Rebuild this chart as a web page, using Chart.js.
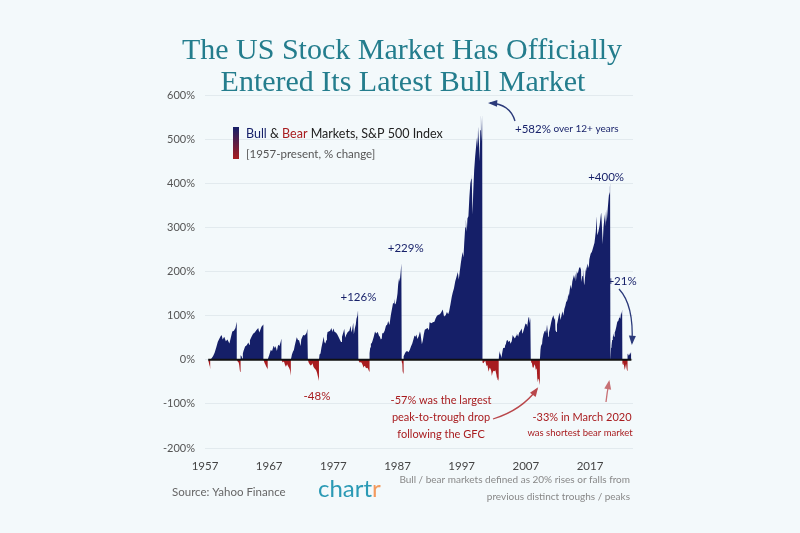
<!DOCTYPE html>
<html>
<head>
<meta charset="utf-8">
<script src="https://cdn.jsdelivr.net/npm/chart.js@4"></script>
<style>
  html, body { margin: 0; padding: 0; background: #f3f9fb; }
  #wrap { width: 800px; height: 533px; }
</style>
</head>
<body>
<div id="wrap"><canvas id="myChart" width="800" height="533"></canvas></div>
<script>
// each phase: [year, % change since the start of that bull / bear market]
var bear1956 = [[1957.5, -4], [1957.6, -7], [1957.68, -12], [1957.75, -15], [1957.81, -21.6]];
var bull1957 = [[1957.81, 0], [1958.0, 3], [1958.25, 8], [1958.5, 16], [1958.75, 28], [1959.0, 41], [1959.25, 48], [1959.5, 55], [1959.6, 56], [1959.75, 46], [1960.0, 52], [1960.25, 42], [1960.5, 46], [1960.8, 37], [1961.0, 49], [1961.25, 64], [1961.5, 66], [1961.75, 72], [1961.95, 86]];
var bear1961 = [[1961.95, 0], [1962.05, -3], [1962.15, -5], [1962.25, -6], [1962.33, -12], [1962.4, -18], [1962.45, -24], [1962.49, -28]];
var bull1962 = [[1962.49, 0], [1962.6, 10], [1962.7, 8], [1962.8, 3], [1962.9, 14], [1963.0, 20], [1963.25, 30], [1963.5, 33], [1963.75, 39], [1963.9, 34], [1964.0, 44], [1964.25, 52], [1964.5, 59], [1964.75, 62], [1965.0, 67], [1965.3, 72], [1965.45, 62], [1965.6, 67], [1965.8, 75], [1966.0, 78], [1966.1, 80]];
var bear1966 = [[1966.1, 0], [1966.2, -4], [1966.3, -8], [1966.4, -11], [1966.5, -14], [1966.6, -17], [1966.7, -19], [1966.77, -22]];
var bull1966 = [[1966.77, 0], [1966.9, 6], [1967.0, 10], [1967.25, 22], [1967.45, 20], [1967.7, 32], [1967.9, 26], [1968.0, 31], [1968.2, 20], [1968.4, 34], [1968.6, 31], [1968.8, 41], [1968.91, 48]];
var bear1968 = [[1968.91, 0], [1969.1, -6], [1969.3, -4], [1969.45, -11], [1969.6, -16], [1969.8, -10], [1969.95, -15], [1970.1, -18], [1970.25, -24], [1970.33, -30], [1970.4, -36]];
var bull1970 = [[1970.4, 0], [1970.55, 12], [1970.7, 18], [1970.85, 22], [1971.0, 33], [1971.15, 42], [1971.3, 51], [1971.5, 44], [1971.65, 45], [1971.9, 31], [1972.0, 46], [1972.3, 56], [1972.5, 55], [1972.7, 58], [1972.85, 62], [1972.95, 70], [1973.03, 74]];
var bear1973 = [[1973.03, 0], [1973.15, -6], [1973.3, -10], [1973.45, -13], [1973.6, -12], [1973.75, -8], [1973.9, -16], [1974.0, -18], [1974.15, -21], [1974.3, -23], [1974.45, -29], [1974.55, -35], [1974.65, -41], [1974.76, -48]];
var bull1974 = [[1974.76, 0], [1974.85, 12], [1975.0, 14], [1975.15, 28], [1975.3, 38], [1975.5, 52], [1975.6, 40], [1975.75, 37], [1975.9, 44], [1976.0, 55], [1976.1, 63], [1976.3, 64], [1976.5, 66], [1976.7, 72], [1976.85, 63], [1977.0, 71], [1977.2, 63], [1977.4, 62], [1977.6, 58], [1977.8, 52], [1978.0, 46], [1978.2, 40], [1978.35, 52], [1978.6, 64], [1978.7, 70], [1978.85, 50], [1979.0, 56], [1979.25, 63], [1979.5, 66], [1979.7, 77], [1979.8, 62], [1979.95, 69], [1980.1, 84], [1980.2, 58], [1980.35, 71], [1980.5, 80], [1980.6, 93], [1980.75, 100], [1980.85, 112], [1980.89, 120], [1980.91, 126]];
var bear1980 = [[1980.91, 0], [1981.0, -4], [1981.15, -7], [1981.3, -5], [1981.45, -8], [1981.6, -13], [1981.7, -18], [1981.8, -14], [1981.95, -15], [1982.1, -19], [1982.25, -18], [1982.4, -20], [1982.5, -24], [1982.61, -27]];
var bull1982 = [[1982.61, 0], [1982.68, 15], [1982.75, 28], [1982.85, 36], [1983.0, 38], [1983.15, 45], [1983.3, 52], [1983.5, 64], [1983.65, 60], [1983.8, 63], [1983.95, 62], [1984.1, 55], [1984.25, 52], [1984.4, 46], [1984.55, 48], [1984.62, 60], [1984.8, 60], [1985.0, 66], [1985.2, 77], [1985.4, 80], [1985.55, 88], [1985.75, 79], [1985.9, 95], [1986.0, 104], [1986.15, 116], [1986.3, 128], [1986.45, 138], [1986.6, 125], [1986.75, 128], [1986.9, 140], [1987.0, 150], [1987.1, 170], [1987.25, 186], [1987.35, 177], [1987.5, 200], [1987.6, 218], [1987.63, 222], [1987.65, 229]];
var bear1987 = [[1987.65, 0], [1987.7, -5], [1987.75, -9], [1987.79, -14], [1987.8, -33], [1987.85, -26], [1987.9, -30], [1987.93, -33.5]];
var bull1987 = [[1987.93, 0], [1988.0, 8], [1988.15, 14], [1988.3, 18], [1988.5, 20], [1988.7, 17], [1988.9, 22], [1989.1, 30], [1989.3, 37], [1989.5, 47], [1989.65, 55], [1989.8, 52], [1989.95, 57], [1990.1, 47], [1990.3, 53], [1990.5, 64], [1990.6, 58], [1990.8, 35], [1990.95, 44], [1991.1, 58], [1991.25, 68], [1991.5, 70], [1991.7, 72], [1991.9, 67], [1992.0, 85], [1992.3, 83], [1992.5, 85], [1992.75, 86], [1992.95, 94], [1993.15, 100], [1993.4, 102], [1993.6, 103], [1993.8, 107], [1994.05, 114], [1994.25, 98], [1994.5, 101], [1994.7, 108], [1994.9, 103], [1995.05, 110], [1995.25, 125], [1995.45, 142], [1995.6, 152], [1995.8, 162], [1996.0, 178], [1996.2, 188], [1996.4, 199], [1996.55, 182], [1996.7, 200], [1996.85, 217], [1997.0, 232], [1997.15, 244], [1997.28, 232], [1997.4, 265], [1997.55, 300], [1997.65, 318], [1997.8, 290], [1997.9, 320], [1998.05, 325], [1998.2, 368], [1998.35, 400], [1998.5, 410], [1998.55, 422], [1998.65, 355], [1998.7, 330], [1998.8, 380], [1998.95, 430], [1999.1, 460], [1999.3, 492], [1999.4, 504], [1999.5, 480], [1999.55, 528], [1999.7, 490], [1999.8, 450], [1999.9, 520], [2000.0, 555], [2000.1, 510], [2000.15, 495], [2000.2, 560], [2000.22, 575], [2000.23, 582]];
var bear2000 = [[2000.23, 0], [2000.3, -6], [2000.4, -8], [2000.55, -4], [2000.7, -3], [2000.8, -10], [2000.9, -15], [2001.0, -12], [2001.1, -19], [2001.2, -27], [2001.35, -18], [2001.45, -19], [2001.6, -25], [2001.7, -37], [2001.8, -30], [2001.95, -25], [2002.1, -26], [2002.25, -24], [2002.4, -33], [2002.5, -42], [2002.55, -46], [2002.6, -39], [2002.7, -45], [2002.77, -49]];
var bull2002 = [[2002.77, 0], [2002.85, 14], [2002.9, 20], [2003.0, 14], [2003.15, 8], [2003.2, 4], [2003.3, 14], [2003.45, 26], [2003.6, 27], [2003.75, 31], [2003.9, 36], [2004.0, 43], [2004.15, 45], [2004.3, 40], [2004.5, 43], [2004.6, 36], [2004.8, 42], [2004.95, 56], [2005.1, 52], [2005.3, 48], [2005.5, 55], [2005.6, 60], [2005.8, 52], [2005.95, 61], [2006.1, 64], [2006.35, 71], [2006.45, 60], [2006.55, 62], [2006.75, 72], [2006.95, 82], [2007.15, 80], [2007.2, 74], [2007.4, 95], [2007.5, 97], [2007.6, 83], [2007.7, 95], [2007.77, 101]];
var bear2007 = [[2007.77, 0], [2007.85, -6], [2007.95, -8], [2008.05, -17], [2008.2, -18], [2008.35, -10], [2008.45, -14], [2008.55, -23], [2008.65, -19], [2008.72, -24], [2008.78, -42], [2008.88, -51], [2008.95, -43], [2009.05, -45], [2009.12, -52], [2009.19, -57]];
var bull2009 = [[2009.19, 0], [2009.28, 22], [2009.4, 36], [2009.5, 31], [2009.6, 47], [2009.75, 58], [2009.9, 64], [2010.05, 67], [2010.15, 60], [2010.3, 80], [2010.4, 66], [2010.5, 52], [2010.6, 62], [2010.75, 70], [2010.95, 85], [2011.1, 94], [2011.3, 101], [2011.45, 90], [2011.55, 95], [2011.62, 67], [2011.75, 63], [2011.85, 80], [2011.95, 86], [2012.1, 98], [2012.25, 107], [2012.4, 90], [2012.55, 100], [2012.7, 110], [2012.85, 100], [2013.0, 115], [2013.15, 122], [2013.3, 132], [2013.4, 140], [2013.5, 133], [2013.6, 150], [2013.7, 143], [2013.85, 160], [2014.0, 170], [2014.1, 160], [2014.25, 178], [2014.5, 192], [2014.6, 183], [2014.7, 196], [2014.8, 178], [2014.95, 200], [2015.1, 195], [2015.3, 208], [2015.45, 210], [2015.6, 204], [2015.65, 176], [2015.8, 190], [2015.9, 208], [2016.05, 175], [2016.12, 169], [2016.3, 200], [2016.45, 212], [2016.5, 200], [2016.6, 218], [2016.8, 208], [2016.9, 228], [2017.1, 240], [2017.3, 245], [2017.5, 255], [2017.7, 265], [2017.9, 290], [2018.05, 325], [2018.12, 282], [2018.3, 290], [2018.5, 305], [2018.7, 330], [2018.75, 333], [2018.85, 305], [2018.98, 262], [2019.1, 300], [2019.3, 330], [2019.38, 302], [2019.5, 340], [2019.6, 333], [2019.62, 312], [2019.75, 340], [2019.9, 366], [2020.0, 380], [2020.08, 372], [2020.11, 390], [2020.13, 400]];
var bear2020 = [[2020.13, 0], [2020.16, -8], [2020.18, -15], [2020.2, -27], [2020.22, -34]];
var bull2020 = [[2020.22, 0], [2020.28, 27], [2020.35, 32], [2020.45, 45], [2020.55, 50], [2020.65, 60], [2020.7, 53], [2020.8, 52], [2020.85, 62], [2020.95, 66], [2021.1, 75], [2021.25, 86], [2021.4, 88], [2021.55, 95], [2021.65, 100], [2021.72, 92], [2021.85, 108], [2021.92, 102], [2022.01, 114]];
var bear2022 = [[2022.01, 0], [2022.08, -8], [2022.15, -12], [2022.2, -6], [2022.3, -13], [2022.38, -18], [2022.45, -23], [2022.55, -14], [2022.62, -9], [2022.7, -19], [2022.78, -25]];
var bull2022 = [[2022.78, 0], [2022.85, 8], [2022.92, 14], [2023.0, 9], [2023.08, 15], [2023.2, 10], [2023.3, 15], [2023.4, 17], [2023.45, 21]];

var phases = [bear1956, bull1957, bear1961, bull1962, bear1966, bull1966, bear1968, bull1970, bear1973,
  bull1974, bear1980, bull1982, bear1987, bull1987, bear2000, bull2002, bear2007, bull2009, bear2020,
  bull2020, bear2022, bull2022];

var yearTicks = [1957, 1967, 1977, 1987, 1997, 2007, 2017];
var pctTicks = [-200, -100, 0, 100, 200, 300, 400, 500, 600];

var navy = '#151f68';
var red = '#a81c1f';

var points = [];
phases.forEach(function(p) {
  p.forEach(function(d) { points.push({x: d[0], y: d[1]}); });
});
var firstYear = points[0].x;
var lastYear = points[points.length - 1].x;

function arrow(ctx, x0, y0, cx, cy, x1, y1, color) {
  ctx.strokeStyle = color;
  ctx.fillStyle = color;
  ctx.lineWidth = 1.3;
  ctx.beginPath();
  ctx.moveTo(x0, y0);
  ctx.quadraticCurveTo(cx, cy, x1, y1);
  ctx.stroke();
  var a = Math.atan2(y1 - cy, x1 - cx);
  ctx.beginPath();
  ctx.moveTo(x1 + Math.cos(a) * 2, y1 + Math.sin(a) * 2);
  ctx.lineTo(x1 - Math.cos(a - 0.45) * 8, y1 - Math.sin(a - 0.45) * 8);
  ctx.lineTo(x1 - Math.cos(a + 0.45) * 8, y1 - Math.sin(a + 0.45) * 8);
  ctx.closePath();
  ctx.fill();
}

// draws pieces of text one after another on the same line
function runs(ctx, parts, x, y) {
  ctx.textAlign = 'left';
  parts.forEach(function(r) {
    ctx.font = r[2];
    ctx.fillStyle = r[1];
    ctx.fillText(r[0], x, y);
    x += ctx.measureText(r[0]).width;
  });
}

var overlay = {
  id: 'overlay',
  afterDatasetsDraw: function(chart) {
    var ctx = chart.ctx, x = chart.scales.x, y = chart.scales.y;
    ctx.save();
    ctx.strokeStyle = '#111';
    ctx.lineWidth = 2;
    ctx.beginPath();
    ctx.moveTo(x.getPixelForValue(firstYear), y.getPixelForValue(0));
    ctx.lineTo(x.getPixelForValue(lastYear), y.getPixelForValue(0));
    ctx.stroke();
    ctx.restore();
  },
  afterDraw: function(chart) {
    var ctx = chart.ctx, x = chart.scales.x, y = chart.scales.y;
    ctx.save();
    ctx.textBaseline = 'middle';

    // title
    ctx.textAlign = 'center';
    ctx.fillStyle = '#247d8d';
    ctx.font = '30px "Liberation Serif"';
    ctx.fillText('The US Stock Market Has Officially', 402, 51);
    ctx.fillText('Entered Its Latest Bull Market', 403, 83);

    // legend
    var g = ctx.createLinearGradient(0, 127, 0, 159);
    g.addColorStop(0, navy);
    g.addColorStop(1, red);
    ctx.fillStyle = g;
    ctx.fillRect(233, 127, 6, 32);
    var f13 = '12.5px Lato';
    runs(ctx, [['Bull', navy, f13], [' & ', '#222', f13], ['Bear', red, f13], [' Markets, S&P 500 Index', '#222', f13]], 246, 134);
    runs(ctx, [['[1957-present, % change]', '#555', '11.5px Lato']], 246, 154);

    // bull peaks
    ctx.textAlign = 'center';
    ctx.fillStyle = navy;
    ctx.font = '11.5px Lato';
    ctx.fillText('+229%', x.getPixelForValue(1987.65) + 4, y.getPixelForValue(229) - 10);
    ctx.fillText('+126%', x.getPixelForValue(1980.91), y.getPixelForValue(126) - 7);
    ctx.fillText('+400%', x.getPixelForValue(2020.13) - 4, y.getPixelForValue(400) - 6);
    ctx.fillText('+21%', 622, 281);
    runs(ctx, [['+582%', navy, '11.5px Lato'], [' over 12+ years', navy, '10px Lato']], 515, 129);
    arrow(ctx, 515, 121, 510, 104, 490, 103, '#2b3a7a');
    arrow(ctx, 619, 289, 634, 305, 632, 343, '#2b3a7a');

    // bear troughs
    ctx.textAlign = 'center';
    ctx.fillStyle = red;
    ctx.font = '11.5px Lato';
    ctx.fillText('-48%', 317, 396);
    ctx.font = '11px Lato';
    ctx.fillText('-57% was the largest', 441, 400);
    ctx.fillText('peak-to-trough drop', 441, 417);
    ctx.fillText('following the GFC', 441, 434);
    ctx.fillText('-33% in March 2020', 582, 417);
    ctx.font = '9.5px Lato';
    ctx.fillText('was shortest bear market', 580, 433);
    arrow(ctx, 493, 419, 522, 410, 537, 389, '#b9474b');
    arrow(ctx, 606, 402, 607, 393, 609, 382, '#c77074');

    // footer
    ctx.textAlign = 'left';
    ctx.fillStyle = '#666';
    ctx.font = '11.5px Lato';
    ctx.fillText('Source: Yahoo Finance', 172, 492);
    runs(ctx, [['chart', '#2b9ab5', '24px Lato'], ['r', '#f39a5e', '24px Lato']], 318, 489);
    ctx.textAlign = 'right';
    ctx.fillStyle = '#888';
    ctx.font = '10px Lato';
    ctx.fillText('Bull / bear markets defined as 20% rises or falls from', 630, 480);
    ctx.fillText('previous distinct troughs / peaks', 630, 497);
    ctx.restore();
  }
};

var ctx = document.getElementById('myChart').getContext('2d');
var myChart = new Chart(ctx, {
  type: 'line',
  data: {
    datasets: [{
      label: 'Bull & Bear Markets',
      data: points,
      borderColor: 'transparent',
      borderWidth: 0,
      pointRadius: 0,
      tension: 0,
      fill: { target: 'origin', above: navy, below: red }
    }]
  },
  options: {
    responsive: false,
    animation: false,
    devicePixelRatio: 1,
    layout: { padding: { left: 150, right: 167, top: 95, bottom: 55 } },
    plugins: { legend: { display: false }, tooltip: { enabled: false } },
    scales: {
      x: {
        type: 'linear',
        min: 1957,
        max: 2023.7,
        afterFit: function(s) { s.height = 30; },
        afterBuildTicks: function(s) { s.ticks = yearTicks.map(function(v) { return {value: v}; }); },
        grid: { display: false },
        border: { display: false },
        ticks: {
          padding: 3,
          color: '#444',
          font: { family: 'Lato', size: 11.5 },
          callback: function(v) { return String(v); }
        }
      },
      y: {
        min: -200,
        max: 600,
        afterFit: function(s) { s.width = 55; },
        afterBuildTicks: function(s) { s.ticks = pctTicks.map(function(v) { return {value: v}; }); },
        grid: { color: '#e2eaee', drawTicks: false },
        border: { display: false },
        ticks: {
          padding: 10,
          color: '#555',
          font: { family: 'Lato', size: 11 },
          callback: function(v) { return v + '%'; }
        }
      }
    }
  },
  plugins: [overlay]
});
</script>
</body>
</html>
